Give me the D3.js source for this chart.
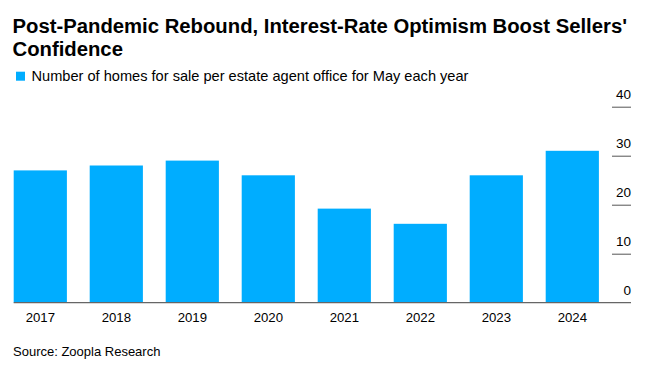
<!DOCTYPE html>
<html><head><meta charset="utf-8">
<script src="https://cdn.jsdelivr.net/npm/d3@7"></script>
<style>
html,body{margin:0;padding:0;background:#fff;}
svg{display:block;font-family:"Liberation Sans",Arial,sans-serif;}
</style></head>
<body>
<svg id="c" width="669" height="366"></svg>
<script>
const years = ["2017","2018","2019","2020","2021","2022","2023","2024"];
const homesPerOffice = [27, 28, 29, 26, 19.2, 16.1, 26, 31];
const yTicks = [0, 10, 20, 30, 40];
const titleLines = ["Post-Pandemic Rebound, Interest-Rate Optimism Boost Sellers'", "Confidence"];
const legendLabel = "Number of homes for sale per estate agent office for May each year";
const sourceText = "Source: Zoopla Research";

const svg = d3.select("#c");
const x = d3.scaleBand().domain(years).range([2.3, 610.3]).paddingInner(0.3).paddingOuter(0.15);
const y = d3.scaleLinear().domain([0, 40]).range([302.7, 106.7]);

svg.selectAll("text.title").data(titleLines).join("text")
  .attr("class","title")
  .attr("x", 12.5).attr("y", (d,i) => 33.3 + i*22.5)
  .attr("font-size", 20.3).attr("font-weight", "bold").attr("fill", "#000")
  .text(d => d);

svg.append("rect").attr("x", 16).attr("y", 71.7).attr("width", 9).attr("height", 9).attr("fill", "#00adff");
svg.append("text").attr("x", 31.5).attr("y", 80.7).attr("font-size", 14.6).attr("fill", "#000").text(legendLabel);

svg.selectAll("rect.bar").data(years).join("rect")
  .attr("class","bar")
  .attr("x", d => x(d)).attr("width", x.bandwidth())
  .attr("y", (d,i) => y(homesPerOffice[i]))
  .attr("height", (d,i) => y(0) - y(homesPerOffice[i]))
  .attr("fill", "#00adff");

// y axis on right
const yAxis = d3.axisRight(y).tickValues(yTicks).tickSize(0).tickFormat(d3.format("d"));
const yg = svg.append("g").attr("transform", "translate(631,0)").call(yAxis);
yg.select(".domain").remove();
yg.selectAll(".tick text").attr("x", 0).attr("dy", "-8.5").attr("text-anchor", "end")
  .attr("font-size", 13.5).attr("font-family", "Liberation Sans, Arial, sans-serif").attr("fill", "#000");
yg.selectAll(".tick").filter(d => d !== 0).append("line")
  .attr("x1", -19).attr("x2", 0).attr("stroke", "#555").attr("stroke-width", 1);

// baseline
svg.append("line").attr("x1", 13.7).attr("x2", 631).attr("y1", y(0)).attr("y2", y(0))
  .attr("stroke", "#666").attr("stroke-width", 1.2);

// x axis
const xAxis = d3.axisBottom(x).tickSize(0).tickPadding(0);
const xg = svg.append("g").attr("transform", `translate(0,${y(0)})`).call(xAxis);
xg.select(".domain").remove();
xg.selectAll(".tick text").attr("dy", 0).attr("y", 19.5)
  .attr("font-size", 13.2).attr("font-family", "Liberation Sans, Arial, sans-serif").attr("fill", "#000");

svg.append("text").attr("x", 13).attr("y", 356).attr("font-size", 13).attr("fill", "#000").text(sourceText);
</script>
</body></html>
